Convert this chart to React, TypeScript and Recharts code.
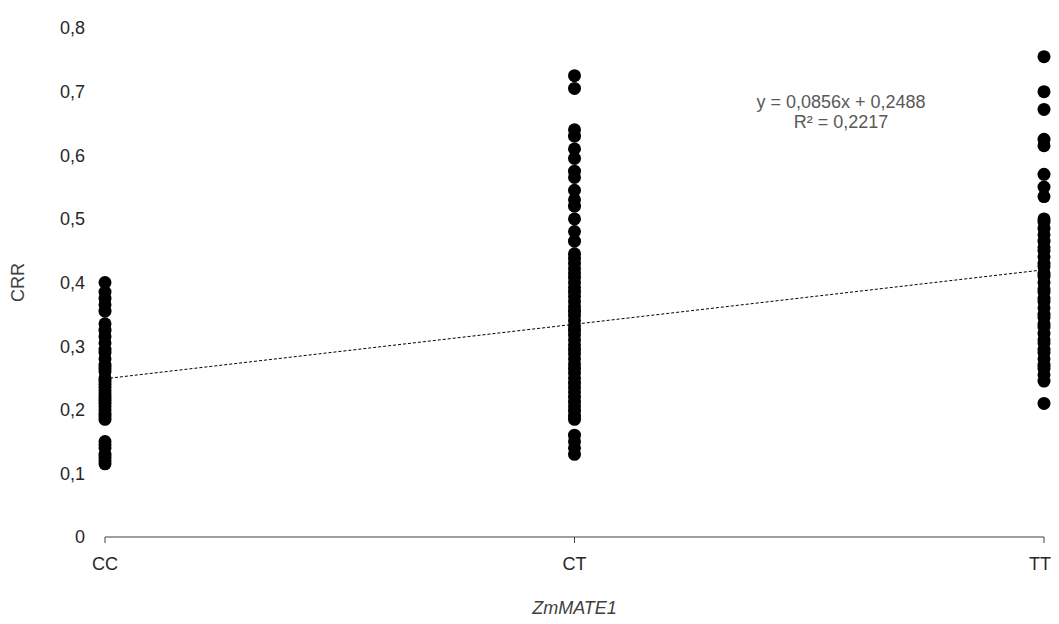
import React from 'react';
import { ScatterChart, Scatter, XAxis, YAxis, Label } from 'recharts';

// genotype classes on the x axis (numeric position = index)
const genotypes = ['CC', 'CT', 'TT'];

// CRR values per genotype
const ccValues = [
  0.4, 0.385, 0.375, 0.365, 0.355, 0.335, 0.325, 0.315, 0.305, 0.295, 0.29, 0.28,
  0.27, 0.265, 0.26, 0.25, 0.245, 0.24, 0.235, 0.23, 0.225, 0.22, 0.215, 0.21,
  0.205, 0.2, 0.195, 0.19, 0.185, 0.15, 0.145, 0.14, 0.13, 0.125, 0.12, 0.115,
];
const ctValues = [
  0.725, 0.705, 0.64, 0.63, 0.61, 0.595, 0.575, 0.565, 0.545, 0.53, 0.52, 0.5,
  0.48, 0.465, 0.445, 0.438, 0.43, 0.422, 0.415, 0.408, 0.4, 0.392, 0.385, 0.378,
  0.37, 0.362, 0.355, 0.348, 0.34, 0.332, 0.325, 0.318, 0.31, 0.302, 0.295, 0.288,
  0.28, 0.272, 0.265, 0.258, 0.25, 0.242, 0.235, 0.228, 0.22, 0.212, 0.205, 0.198,
  0.19, 0.185, 0.16, 0.15, 0.14, 0.13,
];
const ttValues = [
  0.755, 0.7, 0.672, 0.625, 0.615, 0.57, 0.55, 0.535, 0.5, 0.495, 0.485, 0.475,
  0.465, 0.455, 0.45, 0.44, 0.43, 0.425, 0.415, 0.41, 0.4, 0.39, 0.385, 0.375,
  0.37, 0.36, 0.35, 0.345, 0.335, 0.33, 0.32, 0.31, 0.305, 0.295, 0.29, 0.28,
  0.27, 0.265, 0.255, 0.245, 0.21,
];

const yTicks = [0, 0.1, 0.2, 0.3, 0.4, 0.5, 0.6, 0.7, 0.8];

// linear trendline fitted by the spreadsheet
const slope = 0.0856;
const intercept = 0.2488;

const points = [ccValues, ctValues, ttValues].flatMap((vals, i) =>
  vals.map((v) => ({ x: i, y: v }))
);
const trend = [0, 2].map((x) => ({ x, y: slope * x + intercept }));

const FONT = '"Liberation Sans", Arial, sans-serif';

const Dot = (props: any) => <circle cx={props.cx} cy={props.cy} r={6.5} fill="#000" />;
const NoDot = () => <g />;

const fmt = (v: number) => (v === 0 ? '0' : v.toFixed(1).replace('.', ','));

export default function App() {
  return (
    <div style={{ position: 'relative', width: 1043, height: 616, fontFamily: FONT }}>
      <ScatterChart
        width={1043}
        height={616}
        margin={{ top: 20, right: 7, bottom: 0, left: 0 }}
      >
        <XAxis
          type="number"
          dataKey="x"
          domain={[0, 2]}
          ticks={[0, 1, 2]}
          tickFormatter={(i: number) => genotypes[i]}
          height={87}
          stroke="#404040"
          tickSize={6}
          tickMargin={14}
          tick={{ fill: '#262626', fontSize: 18, fontFamily: FONT }}
        >
          <Label
            content={({ viewBox }: any) => (
              <text
                x={viewBox.x + viewBox.width / 2}
                y={600}
                textAnchor="middle"
                dominantBaseline="central"
                fontSize={18}
                fontStyle="italic"
                fontFamily={FONT}
                fill="#404040"
              >
                ZmMATE1
              </text>
            )}
          />
        </XAxis>
        <YAxis
          type="number"
          dataKey="y"
          domain={[0, 0.8]}
          ticks={yTicks}
          tickFormatter={fmt}
          width={97}
          axisLine={false}
          tickLine={false}
          tickSize={0}
          tickMargin={20}
          tick={{ fill: '#262626', fontSize: 18, fontFamily: FONT }}
        >
          <Label
            content={({ viewBox }: any) => {
              const cy = viewBox.y + viewBox.height / 2;
              return (
                <text
                  x={10}
                  y={cy}
                  transform={`rotate(-90 10 ${cy})`}
                  textAnchor="middle"
                  dominantBaseline="central"
                  fontSize={18}
                  fontFamily={FONT}
                  fill="#404040"
                >
                  CRR
                </text>
              );
            }}
          />
        </YAxis>
        <Scatter
          data={trend}
          line={{ stroke: '#000', strokeWidth: 1, strokeDasharray: '3 2' }}
          shape={NoDot}
          isAnimationActive={false}
        />
        <Scatter data={points} shape={Dot} isAnimationActive={false} />
      </ScatterChart>
      <div
        style={{
          position: 'absolute',
          left: 733,
          top: 84,
          width: 200,
          textAlign: 'center',
          fontSize: 18,
          lineHeight: '20px',
          color: '#595959',
        }}
      >
        <div>y = 0,0856x + 0,2488</div>
        <div>R² = 0,2217</div>
      </div>
    </div>
  );
}
